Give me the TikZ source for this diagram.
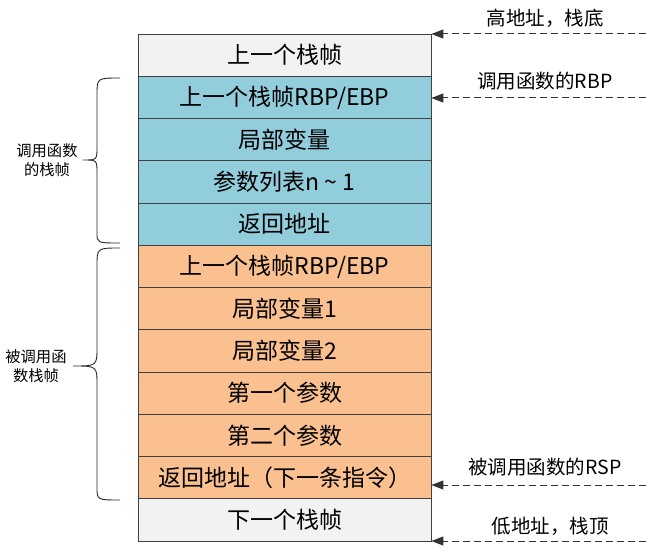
\documentclass[tikz,border=0pt]{standalone}
\usepackage{fontspec}
\setmainfont{Noto Sans CJK SC}
\usetikzlibrary{arrows.meta}
\definecolor{framegray}{HTML}{F2F2F2}
\definecolor{callerblue}{HTML}{92CDDC}
\definecolor{calleeorange}{HTML}{FAC090}

\begin{document}
\begin{tikzpicture}[x=1pt,y=-1pt,
    frame/.style={draw=black!75, line width=0.8pt, minimum width=293pt, minimum height=42.25pt, inner sep=0pt, font=\fontsize{23}{26}\selectfont},
    pointer/.style={draw=black!80, line width=1pt, dash pattern=on 7pt off 4pt, -{Triangle[length=12pt,width=9pt]}},
    tag/.style={font=\fontsize{19.5}{22}\selectfont},
    side/.style={align=center, font=\fontsize{15.3}{19}\selectfont},
    brace/.style={draw=black!85, line width=0.9pt}]
    \useasboundingbox (0,0) rectangle (646,551);

    % stack frames, from high to low address
    \node[frame, fill=framegray] (prev) at (284.5,55.1) {上一个栈帧};
    \node[frame, fill=callerblue] (rbp) at (284.5,97.4) {上一个栈帧RBP/EBP};
    \node[frame, fill=callerblue] (locals) at (284.5,139.6) {局部变量};
    \node[frame, fill=callerblue] (args) at (284.5,181.9) {参数列表n \textasciitilde{} 1};
    \node[frame, fill=callerblue] (ret) at (284.5,224.1) {返回地址};
    \node[frame, fill=calleeorange] (crbp) at (284.5,266.4) {上一个栈帧RBP/EBP};
    \node[frame, fill=calleeorange] (cvara) at (284.5,308.6) {局部变量1};
    \node[frame, fill=calleeorange] (cvarb) at (284.5,350.9) {局部变量2};
    \node[frame, fill=calleeorange] (arga) at (284.5,393.1) {第一个参数};
    \node[frame, fill=calleeorange] (argb) at (284.5,435.4) {第二个参数};
    \node[frame, fill=calleeorange] (cret) at (284.5,477.6) {返回地址（下一条指令）};
    \node[frame, fill=framegray] (next) at (284.5,519.9) {下一个栈帧};

    % pointers on the right
    \coordinate (high) at (646,34);
    \coordinate (callerrbp) at (646,98);
    \coordinate (calleersp) at (646,485);
    \coordinate (low) at (646,541);
    \draw[pointer] (high) -- (high -| prev.east);
    \draw[pointer] (callerrbp) -- (callerrbp -| rbp.east);
    \draw[pointer] (calleersp) -- (calleersp -| cret.east);
    \draw[pointer] (low) -- (low -| next.east);
    \node[tag] (hightag) at (545,18) {高地址，栈底};
    \node[tag] (rbptag) at (545,81) {调用函数的RBP};
    \node[tag] (rsptag) at (545,467) {被调用函数的RSP};
    \node[tag] (lowtag) at (550,526) {低地址，栈顶};

    % braces on the left
    \draw[brace] (120,78) .. controls (97,78) .. (97,95) -- (97,147)
        .. controls (97,160) .. (83,160) .. controls (97,160) .. (97,173)
        -- (97,233) .. controls (97,243) .. (120,243);
    \draw[brace] (120,248) .. controls (97,248) .. (97,266) -- (97,347)
        .. controls (97,366) .. (73,366) .. controls (97,366) .. (97,385)
        -- (97,487) .. controls (97,500) .. (120,500);
    \node[side] (callertag) at (47,160) {调用函数\\的栈帧};
    \node[side] (calleetag) at (36,366) {被调用函\\数栈帧};
\end{tikzpicture}
\end{document}
